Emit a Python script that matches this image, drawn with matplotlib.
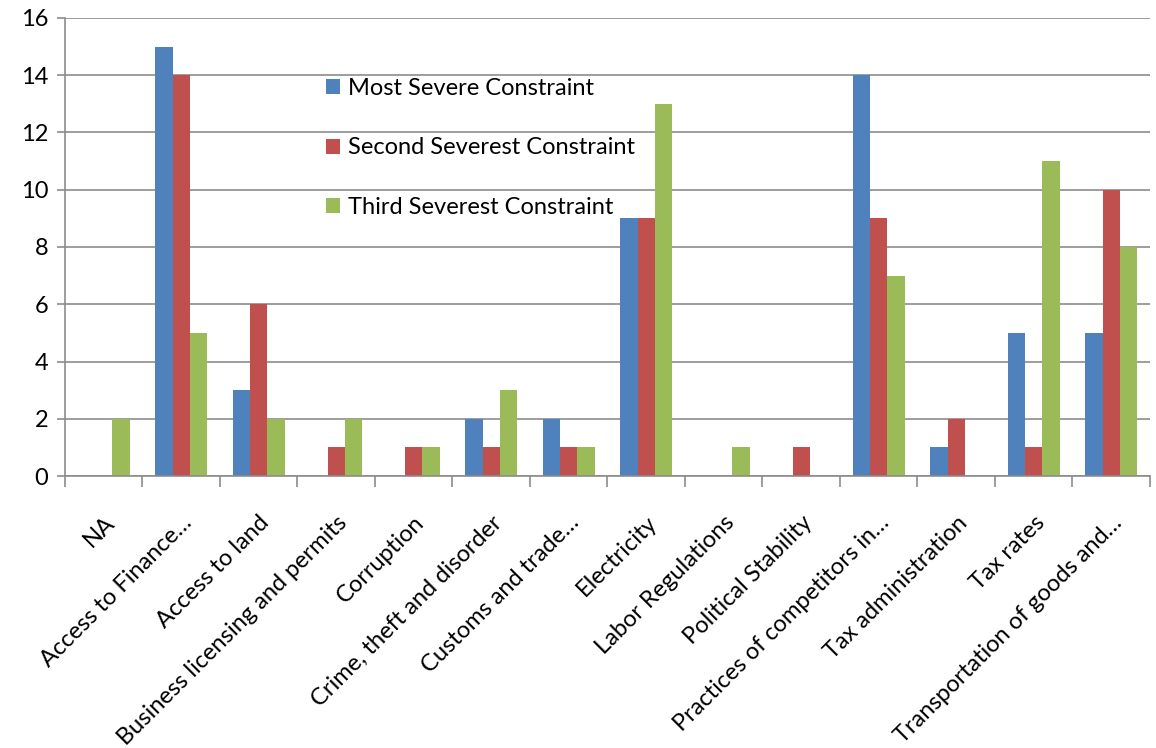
import numpy as np
import matplotlib
matplotlib.use("Agg")
import matplotlib.pyplot as plt
from matplotlib.ticker import FixedLocator

plt.rcParams['font.family'] = ['Lato', 'DejaVu Sans']

categories = ["NA", "Access to Finance…", "Access to land", "Business licensing and permits",
              "Corruption", "Crime, theft and disorder", "Customs and trade…", "Electricity",
              "Labor Regulations", "Political Stability", "Practices of competitors in…",
              "Tax administration", "Tax rates", "Transportation of goods and…"]
most_severe = [0, 15, 3, 0, 0, 2, 2, 9, 0, 0, 14, 1, 5, 5]
second_severe = [0, 14, 6, 1, 1, 1, 1, 9, 0, 1, 9, 2, 1, 10]
third_severe = [2, 5, 2, 2, 1, 3, 1, 13, 1, 0, 7, 0, 11, 8]
series_names = ["Most Severe Constraint", "Second Severest Constraint", "Third Severest Constraint"]
colors = ["#4F81BD", "#C0504D", "#9BBB59"]

fig = plt.figure(figsize=(11.56, 7.48), dpi=100)
ax = fig.add_axes([0.0562, 0.3636, 0.9386, 0.6124])

x = np.arange(len(categories))
w = 1 / 4.5
for i, (vals, name, c) in enumerate(zip([most_severe, second_severe, third_severe], series_names, colors)):
    ax.bar(x + (i - 1) * w, vals, width=w, color=c, label=name, zorder=2)

ax.set_xlim(-0.5, len(categories) - 0.5)
ax.set_ylim(0, 16)
ax.set_yticks(range(0, 17, 2))
ax.yaxis.grid(True, color="#8C8C8C", linewidth=1.2, zorder=0)
ax.set_axisbelow(True)

ax.set_xticks(x)
ax.set_xticklabels(categories, rotation=45, ha="right", rotation_mode="anchor", fontsize=17)
ax.tick_params(axis="x", which="major", length=0, pad=26)
ax.xaxis.set_minor_locator(FixedLocator(np.arange(-0.5, len(categories), 1)))
ax.tick_params(axis="x", which="minor", length=8, width=1.2, color="#8C8C8C")
ax.tick_params(axis="y", length=6, width=1.2, color="#8C8C8C", labelsize=17, pad=6)

for s in ["top", "right"]:
    ax.spines[s].set_visible(False)
for s in ["left", "bottom"]:
    ax.spines[s].set_color("#8C8C8C")
    ax.spines[s].set_linewidth(1.2)

ax.legend(loc="upper left", bbox_to_anchor=(0.221, 0.915), frameon=False, fontsize=17,
          handlelength=0.6, handleheight=0.6, handletextpad=0.35, labelspacing=1.62)

fig.savefig("out.png", dpi=100)
